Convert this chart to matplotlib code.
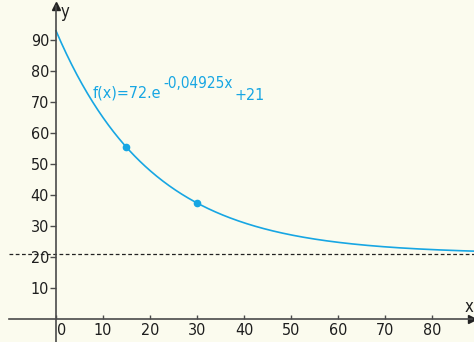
import numpy as np
import matplotlib
matplotlib.use('Agg')
import matplotlib.pyplot as plt
from matplotlib import font_manager
from matplotlib.transforms import ScaledTranslation

# data
coef_a = 72
coef_k = 0.04925
coef_c = 21
pts_x = [15, 30]
xticks = [0, 10, 20, 30, 40, 50, 60, 70, 80]
yticks = [10, 20, 30, 40, 50, 60, 70, 80, 90]
lab_main = 'f(x)=72.e'
lab_exp = '-0,04925x'
lab_add = '+21'

names = {f.name for f in font_manager.fontManager.ttflist}
fam = 'Liberation Sans Narrow' if 'Liberation Sans Narrow' in names else 'DejaVu Sans'
plt.rcParams['font.family'] = fam
plt.rcParams['font.stretch'] = 'condensed'

bg = '#fbfbee'
blue = '#17a6e3'
axc = '#4a4a4a'
txt = '#1e1e1e'

fig = plt.figure(figsize=(4.74, 3.42), dpi=100, facecolor=bg)
ax = fig.add_axes([0, 0, 1, 1], facecolor=bg)
ax.set_xlim(-11.9, 88.9)
ax.set_ylim(-7.4, 102.9)

for s in ['top', 'right']:
    ax.spines[s].set_visible(False)
ax.spines['left'].set_position(('data', 0))
ax.spines['bottom'].set_position(('data', 0))
ax.spines['left'].set_color(axc)
ax.spines['bottom'].set_color(axc)
ax.spines['left'].set_linewidth(1.2)
ax.spines['bottom'].set_linewidth(1.2)
ax.spines['bottom'].set_bounds(-10, 88.5)
ax.spines['left'].set_bounds(-7.4, 101)

ax.plot(88.5, 0, marker='>', color='#222', ms=6, clip_on=False)
ax.plot(0, 101, marker='^', color='#222', ms=6, clip_on=False)

ax.set_xticks(xticks)
ax.set_yticks(yticks)
ax.tick_params(axis='y', direction='out', length=4, width=1, color=axc,
               labelsize=11.5, labelcolor=txt, pad=1)
ax.tick_params(axis='x', direction='in', length=3, width=1, color=axc,
               labelsize=11.5, labelcolor=txt, pad=3)
ax.set_xticklabels([str(v) for v in xticks])
ax.set_yticklabels([str(v) for v in yticks])
lab0 = ax.get_xticklabels()[0]
lab0.set_transform(lab0.get_transform() + ScaledTranslation(6 / 100, 0, fig.dpi_scale_trans))

ax.axhline(coef_c, xmin=0.02, color='#222', lw=0.9, ls=(0, (3, 2)))

xs = np.linspace(0, 89, 400)
ax.plot(xs, coef_a * np.exp(-coef_k * xs) + coef_c, color=blue, lw=1.2)
px = np.array(pts_x)
ax.plot(px, coef_a * np.exp(-coef_k * px) + coef_c, 'o', color=blue, ms=4.5)

t1 = ax.text(7.9, 71.6, lab_main, color=blue, fontsize=11.5, ha='left', va='baseline')
t2 = ax.annotate(lab_exp, xy=(1, 0), xycoords=t1, xytext=(2, 9), textcoords='offset pixels',
                 color=blue, fontsize=11, ha='left', va='bottom')
ax.annotate(lab_add, xy=(1, 0), xycoords=t2, xytext=(1, -12), textcoords='offset pixels',
            color=blue, fontsize=11.5, ha='left', va='bottom')
ax.text(1.0, 99, 'y', color=txt, fontsize=12, ha='left', va='center')
ax.text(87.9, 4, 'x', color=txt, fontsize=12, ha='center', va='center')

fig.savefig('out.png', dpi=100, facecolor=bg)
